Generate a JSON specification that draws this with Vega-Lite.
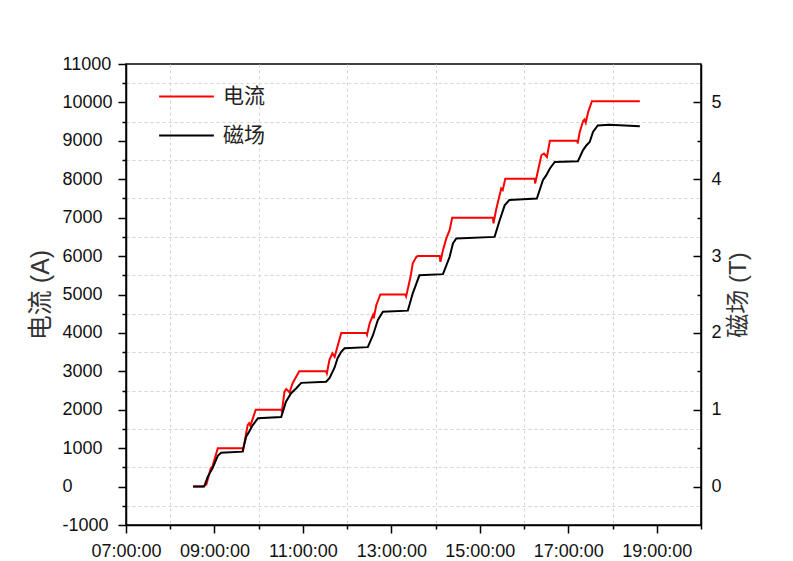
{
  "$schema": "https://vega.github.io/schema/vega-lite/v6.json",
  "autosize": {"type": "none"},
  "padding": {"left": 126, "top": 64, "right": 92, "bottom": 36},
  "width": 575,
  "height": 461,
  "background": "white",
  "config": {
    "view": {"stroke": "black", "strokeWidth": 1.5},
    "axis": {
      "labelFont": "Liberation Sans",
      "labelFontSize": 18,
      "labelColor": "#111",
      "titleFont": "Liberation Sans, Noto Sans CJK SC",
      "titleFontSize": 24,
      "titleFontWeight": "normal",
      "titleColor": "#333",
      "domainColor": "black",
      "domainWidth": 1.5,
      "tickColor": "black",
      "tickWidth": 1.5,
      "labelFlush": false,
      "labelOverlap": false,
      "gridColor": "#d4d4d4",
      "gridDash": [3, 3],
      "gridWidth": 1
    },
    "legend": {
      "labelFont": "Liberation Sans, Noto Sans CJK SC",
      "labelFontSize": 21,
      "labelColor": "#222"
    }
  },
  "datasets": {
    "current": [
      {"time": "2020-01-01T08:31:00", "A": 0},
      {"time": "2020-01-01T08:44:00", "A": 0},
      {"time": "2020-01-01T08:49:00", "A": 50},
      {"time": "2020-01-01T08:55:00", "A": 480},
      {"time": "2020-01-01T08:57:00", "A": 510},
      {"time": "2020-01-01T09:04:30", "A": 1000},
      {"time": "2020-01-01T09:38:00", "A": 1000},
      {"time": "2020-01-01T09:39:00", "A": 960},
      {"time": "2020-01-01T09:45:00", "A": 1600},
      {"time": "2020-01-01T09:47:00", "A": 1650},
      {"time": "2020-01-01T09:48:40", "A": 1580},
      {"time": "2020-01-01T09:56:00", "A": 2000},
      {"time": "2020-01-01T10:30:30", "A": 2000},
      {"time": "2020-01-01T10:31:30", "A": 1960},
      {"time": "2020-01-01T10:35:00", "A": 2470},
      {"time": "2020-01-01T10:37:20", "A": 2540},
      {"time": "2020-01-01T10:41:50", "A": 2450},
      {"time": "2020-01-01T10:46:00", "A": 2690},
      {"time": "2020-01-01T10:55:00", "A": 3000},
      {"time": "2020-01-01T11:31:30", "A": 3000},
      {"time": "2020-01-01T11:32:30", "A": 2950},
      {"time": "2020-01-01T11:36:00", "A": 3300},
      {"time": "2020-01-01T11:40:00", "A": 3470},
      {"time": "2020-01-01T11:43:00", "A": 3380},
      {"time": "2020-01-01T11:52:00", "A": 4000},
      {"time": "2020-01-01T12:26:00", "A": 4000},
      {"time": "2020-01-01T12:27:00", "A": 3950},
      {"time": "2020-01-01T12:30:30", "A": 4250},
      {"time": "2020-01-01T12:35:00", "A": 4460},
      {"time": "2020-01-01T12:36:00", "A": 4380},
      {"time": "2020-01-01T12:39:30", "A": 4720},
      {"time": "2020-01-01T12:45:00", "A": 5000},
      {"time": "2020-01-01T13:19:00", "A": 5000},
      {"time": "2020-01-01T13:20:00", "A": 4950},
      {"time": "2020-01-01T13:26:00", "A": 5460},
      {"time": "2020-01-01T13:29:00", "A": 5810},
      {"time": "2020-01-01T13:34:00", "A": 5980},
      {"time": "2020-01-01T13:36:00", "A": 6000},
      {"time": "2020-01-01T14:05:30", "A": 6000},
      {"time": "2020-01-01T14:06:30", "A": 5850},
      {"time": "2020-01-01T14:10:00", "A": 6155},
      {"time": "2020-01-01T14:14:30", "A": 6460},
      {"time": "2020-01-01T14:19:00", "A": 6675},
      {"time": "2020-01-01T14:22:30", "A": 7000},
      {"time": "2020-01-01T15:17:45", "A": 7000},
      {"time": "2020-01-01T15:18:30", "A": 6850},
      {"time": "2020-01-01T15:22:00", "A": 7200},
      {"time": "2020-01-01T15:29:00", "A": 7760},
      {"time": "2020-01-01T15:31:00", "A": 7715},
      {"time": "2020-01-01T15:34:30", "A": 8010},
      {"time": "2020-01-01T16:14:30", "A": 8010},
      {"time": "2020-01-01T16:15:00", "A": 7890},
      {"time": "2020-01-01T16:19:00", "A": 8235},
      {"time": "2020-01-01T16:23:30", "A": 8625},
      {"time": "2020-01-01T16:27:00", "A": 8670},
      {"time": "2020-01-01T16:31:00", "A": 8580},
      {"time": "2020-01-01T16:35:00", "A": 9000},
      {"time": "2020-01-01T17:12:20", "A": 9000},
      {"time": "2020-01-01T17:12:40", "A": 8930},
      {"time": "2020-01-01T17:15:30", "A": 9230},
      {"time": "2020-01-01T17:20:00", "A": 9510},
      {"time": "2020-01-01T17:22:00", "A": 9555},
      {"time": "2020-01-01T17:23:40", "A": 9475},
      {"time": "2020-01-01T17:27:00", "A": 9755},
      {"time": "2020-01-01T17:32:00", "A": 10030},
      {"time": "2020-01-01T18:37:00", "A": 10030}
    ],
    "field": [
      {"time": "2020-01-01T08:31:00", "T": 0},
      {"time": "2020-01-01T08:46:00", "T": 0},
      {"time": "2020-01-01T08:51:00", "T": 0.13},
      {"time": "2020-01-01T08:57:30", "T": 0.24},
      {"time": "2020-01-01T09:04:30", "T": 0.40},
      {"time": "2020-01-01T09:09:00", "T": 0.44},
      {"time": "2020-01-01T09:38:00", "T": 0.455},
      {"time": "2020-01-01T09:43:00", "T": 0.65},
      {"time": "2020-01-01T09:47:00", "T": 0.715},
      {"time": "2020-01-01T09:52:00", "T": 0.80},
      {"time": "2020-01-01T09:59:00", "T": 0.89},
      {"time": "2020-01-01T10:30:30", "T": 0.905},
      {"time": "2020-01-01T10:37:00", "T": 1.105},
      {"time": "2020-01-01T10:44:00", "T": 1.215},
      {"time": "2020-01-01T10:51:00", "T": 1.28},
      {"time": "2020-01-01T10:57:40", "T": 1.35},
      {"time": "2020-01-01T11:31:30", "T": 1.365},
      {"time": "2020-01-01T11:36:00", "T": 1.41},
      {"time": "2020-01-01T11:43:00", "T": 1.55},
      {"time": "2020-01-01T11:47:00", "T": 1.67},
      {"time": "2020-01-01T11:52:00", "T": 1.755},
      {"time": "2020-01-01T11:56:30", "T": 1.80},
      {"time": "2020-01-01T12:28:00", "T": 1.815},
      {"time": "2020-01-01T12:35:00", "T": 1.97},
      {"time": "2020-01-01T12:41:40", "T": 2.17},
      {"time": "2020-01-01T12:48:30", "T": 2.275},
      {"time": "2020-01-01T13:22:20", "T": 2.29},
      {"time": "2020-01-01T13:29:00", "T": 2.515},
      {"time": "2020-01-01T13:38:00", "T": 2.75},
      {"time": "2020-01-01T14:10:00", "T": 2.765},
      {"time": "2020-01-01T14:19:00", "T": 2.99},
      {"time": "2020-01-01T14:23:30", "T": 3.165},
      {"time": "2020-01-01T14:28:00", "T": 3.23},
      {"time": "2020-01-01T15:20:00", "T": 3.25},
      {"time": "2020-01-01T15:27:00", "T": 3.47},
      {"time": "2020-01-01T15:33:40", "T": 3.66},
      {"time": "2020-01-01T15:40:00", "T": 3.73},
      {"time": "2020-01-01T16:17:20", "T": 3.75},
      {"time": "2020-01-01T16:25:40", "T": 3.99},
      {"time": "2020-01-01T16:30:00", "T": 4.05},
      {"time": "2020-01-01T16:35:00", "T": 4.14},
      {"time": "2020-01-01T16:41:40", "T": 4.225},
      {"time": "2020-01-01T17:13:00", "T": 4.235},
      {"time": "2020-01-01T17:20:00", "T": 4.38},
      {"time": "2020-01-01T17:24:30", "T": 4.44},
      {"time": "2020-01-01T17:29:00", "T": 4.485},
      {"time": "2020-01-01T17:33:30", "T": 4.615},
      {"time": "2020-01-01T17:40:00", "T": 4.70},
      {"time": "2020-01-01T17:56:00", "T": 4.71},
      {"time": "2020-01-01T18:37:00", "T": 4.69}
    ]
  },
  "encoding": {
    "x": {
      "field": "time",
      "type": "temporal",
      "scale": {
        "domain": [
          {"year": 2020, "month": 1, "date": 1, "hours": 7},
          {"year": 2020, "month": 1, "date": 1, "hours": 20}
        ]
      },
      "axis": {
        "title": null,
        "format": "%H:%M:%S",
        "values": [
          {"year": 2020, "month": 1, "date": 1, "hours": 7},
          {"year": 2020, "month": 1, "date": 1, "hours": 8},
          {"year": 2020, "month": 1, "date": 1, "hours": 9},
          {"year": 2020, "month": 1, "date": 1, "hours": 10},
          {"year": 2020, "month": 1, "date": 1, "hours": 11},
          {"year": 2020, "month": 1, "date": 1, "hours": 12},
          {"year": 2020, "month": 1, "date": 1, "hours": 13},
          {"year": 2020, "month": 1, "date": 1, "hours": 14},
          {"year": 2020, "month": 1, "date": 1, "hours": 15},
          {"year": 2020, "month": 1, "date": 1, "hours": 16},
          {"year": 2020, "month": 1, "date": 1, "hours": 17},
          {"year": 2020, "month": 1, "date": 1, "hours": 18},
          {"year": 2020, "month": 1, "date": 1, "hours": 19},
          {"year": 2020, "month": 1, "date": 1, "hours": 20}
        ],
        "labelExpr": "hours(datum.value) % 2 === 1 ? datum.label : ''",
        "tickSize": {"condition": {"test": "hours(datum.value) % 2 === 1", "value": 8}, "value": 4},
        "grid": true,
        "gridOpacity": {"condition": {"test": "hours(datum.value) % 2 === 0 && hours(datum.value) < 20", "value": 1}, "value": 0},
        "labelPadding": 9
      }
    }
  },
  "layer": [
    {
      "data": {"name": "current"},
      "mark": {"type": "line", "strokeWidth": 2, "interpolate": "linear"},
      "encoding": {
        "y": {
          "field": "A",
          "type": "quantitative",
          "scale": {"domain": [-1000, 11000], "nice": false, "zero": false},
          "axis": {
            "orient": "left",
            "title": "电流 (A)",
            "titleFontSize": 25,
            "titlePadding": 9,
            "values": [-1000, -500, 0, 500, 1000, 1500, 2000, 2500, 3000, 3500, 4000, 4500, 5000, 5500, 6000, 6500, 7000, 7500, 8000, 8500, 9000, 9500, 10000, 10500, 11000],
            "labelExpr": "datum.value % 1000 === 0 ? '' + datum.value : ''",
            "tickSize": {"condition": {"test": "datum.value % 1000 === 0", "value": 8}, "value": 4},
            "grid": true,
            "gridOpacity": {"condition": {"test": "datum.value % 1000 !== 0", "value": 1}, "value": 0},
            "labelAlign": "left",
            "labelBaseline": "middle",
            "labelPadding": 56
          }
        },
        "color": {
          "datum": "电流",
          "type": "nominal",
          "scale": {"domain": ["电流", "磁场"], "range": ["#ff0000", "#000000"]},
          "legend": {
            "title": null,
            "orient": "none",
            "legendX": 32,
            "legendY": 4,
            "padding": 0,
            "symbolType": "stroke",
            "symbolSize": 3000,
            "symbolStrokeWidth": 2,
            "labelOffset": 8,
            "rowPadding": -22
          }
        }
      }
    },
    {
      "data": {"name": "field"},
      "mark": {"type": "line", "strokeWidth": 2, "interpolate": "linear"},
      "encoding": {
        "y": {
          "field": "T",
          "type": "quantitative",
          "scale": {"domain": [-0.5, 5.5], "nice": false, "zero": false},
          "axis": {
            "orient": "right",
            "title": "磁场 (T)",
            "titleFontSize": 24,
            "titleAngle": 270,
            "titleBaseline": "top",
            "titlePadding": 5,
            "values": [0, 0.5, 1, 1.5, 2, 2.5, 3, 3.5, 4, 4.5, 5],
            "labelExpr": "datum.value % 1 === 0 ? '' + datum.value : ''",
            "tickSize": {"condition": {"test": "datum.value % 1 === 0", "value": -8}, "value": -4},
            "grid": false,
            "labelBaseline": "middle",
            "labelPadding": 18
          }
        },
        "color": {"datum": "磁场", "type": "nominal"}
      }
    }
  ],
  "resolve": {"scale": {"y": "independent"}}
}
